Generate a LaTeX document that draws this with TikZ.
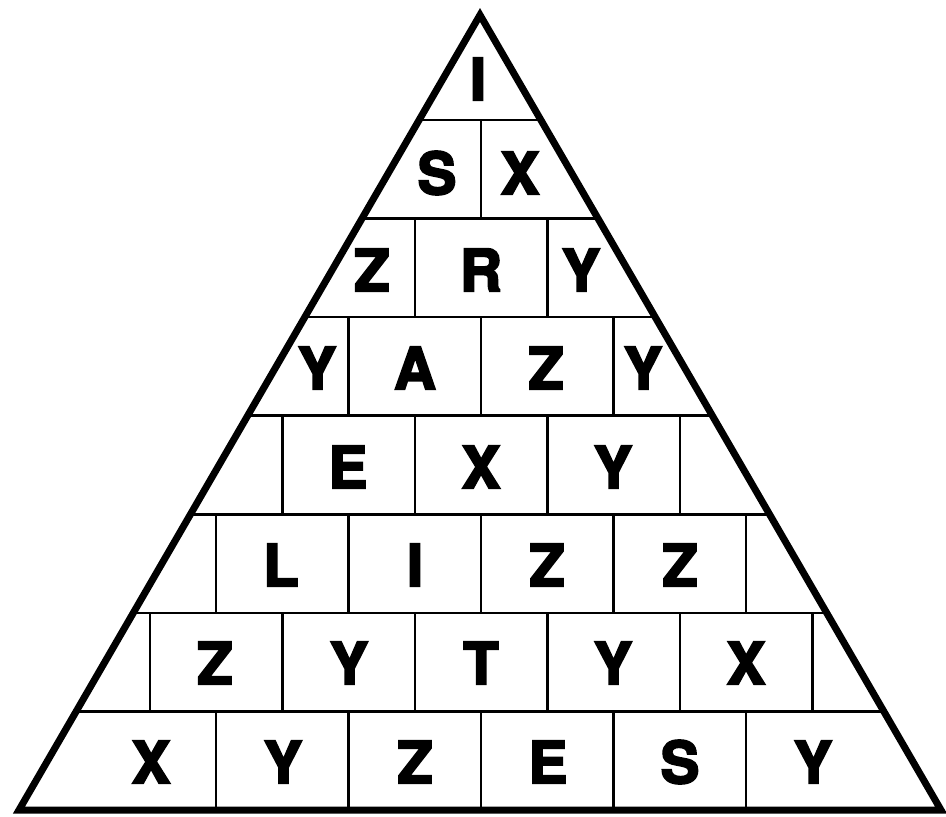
\documentclass[tikz,border=0pt]{standalone}
\usepackage{fontspec}
\newfontfamily\brickfont{TeX Gyre Heros}[BoldFeatures={FakeBold=3.5}]

\begin{document}
\begin{tikzpicture}[x=1pt, y=-1pt,
    brick/.style={line width=2.5pt},
    outline/.style={line width=7pt, line join=miter},
    letter/.style={inner sep=0pt, font=\brickfont\bfseries\fontsize{58}{60}\selectfont}]
    \useasboundingbox (0,0) rectangle (946,817);

    % --- bricks ---
    \begin{scope}
        \clip (480,15) -- (941,810) -- (19,810) -- cycle;
        \foreach \r in {1,...,7}
            \draw[brick] (0,{120+98.57*(\r-1)}) -- (946,{120+98.57*(\r-1)});
        % even rows: joints on the axis; odd rows: shifted by half a brick
        \foreach \r in {2,4,6,8} {
            \pgfmathsetmacro{\yt}{120+98.57*(\r-2)}
            \foreach \k in {-2,...,2}
                \draw[brick] ({481+132.5*\k},\yt) -- ++(0,98.57);
        }
        \foreach \r in {3,5,7} {
            \pgfmathsetmacro{\yt}{120+98.57*(\r-2)}
            \foreach \k in {-3,...,2}
                \draw[brick] ({547.25+132.5*\k},\yt) -- ++(0,98.57);
        }
    \end{scope}

    % --- outline ---
    \draw[outline] (480,15) -- (941,810) -- (19,810) -- cycle;

    % --- letters ---
    \foreach \t/\x/\y [count=\i] in {
        I/478/79,
        S/437/173, X/520/173,
        Z/372/270, R/481/270, Y/581/270,
        Y/317/368, A/415/368, Z/546/368, Y/643/368,
        E/348/467, X/481/467, Y/613/467,
        L/281/565, I/415/565, Z/547/565, Z/680/565,
        Z/215/663, Y/349/663, T/481/663, Y/613/663, X/746/663,
        X/151/762, Y/283/762, Z/415/762, E/548/762, S/680/762, Y/813/762}
        \node[letter] (c\i) at (\x,\y) {\t};
\end{tikzpicture}
\end{document}
